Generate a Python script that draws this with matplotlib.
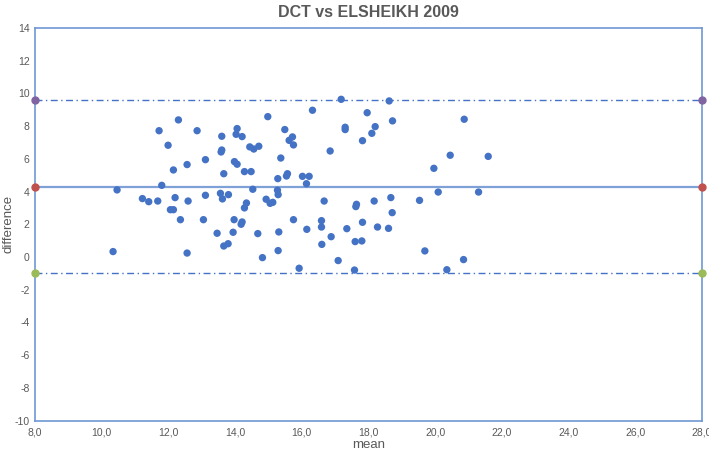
"""
Bland-Altman plot: DCT vs ELSHEIKH 2009
"""
import matplotlib
matplotlib.use('Agg')
import matplotlib.pyplot as plt
from matplotlib.ticker import FuncFormatter

plt.rcParams['font.family'] = ['Liberation Sans Narrow', 'Liberation Sans', 'DejaVu Sans']

# mean of the two methods
mean_vals = [
    12.30, 11.72, 12.86, 11.99, 12.56, 12.15, 11.80, 10.46, 11.22, 11.41,
    11.68, 12.20, 12.59, 12.06, 12.15, 12.36, 10.34, 12.56,
    17.18, 16.32, 14.98, 14.06, 14.03, 14.21, 13.60, 15.49, 17.30, 17.30,
    15.72, 15.62, 15.75, 17.82, 14.44, 14.56, 14.71, 13.60, 13.58, 16.85,
    13.11, 15.37, 13.98, 14.06, 13.66, 14.28, 14.48, 15.54, 15.57, 15.28,
    16.02, 16.22, 16.14, 14.53, 15.27, 15.29, 13.11, 13.56, 13.62, 13.80,
    14.93, 15.05, 15.13, 14.34, 14.28, 16.67, 17.64, 17.62, 13.05, 13.97,
    14.21, 14.18, 15.75, 16.59, 16.59, 17.82, 13.46, 13.94, 14.68, 15.31,
    16.15, 17.35, 16.88, 17.60, 17.80, 13.66, 13.79, 16.60, 15.29, 14.82,
    17.09, 15.92, 17.58,
    18.62, 17.96, 18.72, 18.20, 18.10, 20.87, 20.45, 21.59, 19.96, 20.09,
    21.30, 18.17, 18.67, 19.53, 18.71, 18.27, 18.60, 19.69, 20.85, 20.35,
]
# difference between the two methods
diff_vals = [
    8.38, 7.72, 7.72, 6.83, 5.65, 5.32, 4.38, 4.10, 3.57, 3.38,
    3.42, 3.63, 3.42, 2.89, 2.89, 2.28, 0.33, 0.24,
    9.64, 8.97, 8.58, 7.85, 7.50, 7.36, 7.38, 7.79, 7.93, 7.79,
    7.34, 7.13, 6.85, 7.11, 6.73, 6.60, 6.77, 6.54, 6.42, 6.48,
    5.95, 6.05, 5.83, 5.67, 5.09, 5.22, 5.22, 4.95, 5.09, 4.79,
    4.93, 4.93, 4.48, 4.14, 4.08, 3.81, 3.77, 3.89, 3.55, 3.81,
    3.53, 3.28, 3.34, 3.30, 3.00, 3.42, 3.22, 3.08, 2.28, 2.28,
    2.14, 2.00, 2.28, 2.22, 1.83, 2.12, 1.45, 1.51, 1.43, 1.53,
    1.69, 1.73, 1.24, 0.94, 0.98, 0.67, 0.81, 0.77, 0.39, -0.04,
    -0.22, -0.69, -0.80,
    9.54, 8.82, 8.32, 7.97, 7.56, 8.42, 6.22, 6.15, 5.42, 3.97,
    3.97, 3.42, 3.63, 3.46, 2.71, 1.83, 1.75, 0.37, -0.16, -0.78,
]

bias = 4.3
upper_loa = 9.6
lower_loa = -1.0

x_range = [8, 28]
y_range = [-10, 14]
x_ticks = [8, 10, 12, 14, 16, 18, 20, 22, 24, 26, 28]
y_ticks = [-10, -8, -6, -4, -2, 0, 2, 4, 6, 8, 10, 12, 14]

text_grey = '#595959'
frame_blue = '#6F97D3'

fig = plt.figure(figsize=(7.09, 4.53), dpi=100)
ax = fig.add_axes([0.0494, 0.0717, 0.9407, 0.8665])

ax.scatter(mean_vals, diff_vals, s=28, color='#4472C4', edgecolors='none', zorder=3)

# bias and limits of agreement
ax.plot(x_range, [bias, bias], color='#7EA1D8', lw=1.6, zorder=2)
ax.plot(x_range, [upper_loa, upper_loa], color='#4472C4', lw=1,
        linestyle=(0, (5, 2.5, 1, 2.5)), zorder=2)
ax.plot(x_range, [lower_loa, lower_loa], color='#4472C4', lw=1,
        linestyle=(0, (5, 2.5, 1, 2.5)), zorder=2)

# end markers
ax.plot(x_range, [upper_loa, upper_loa], 'o', color='#8064A2', ms=5, clip_on=False, zorder=4)
ax.plot(x_range, [bias, bias], 'o', color='#C0504D', ms=5, clip_on=False, zorder=4)
ax.plot(x_range, [lower_loa, lower_loa], 'o', color='#9BBB59', ms=5, clip_on=False, zorder=4)

ax.set_xlim(x_range)
ax.set_ylim(y_range)
ax.set_xticks(x_ticks)
ax.set_yticks(y_ticks)
ax.xaxis.set_major_formatter(FuncFormatter(lambda v, p: f'{v:.1f}'.replace('.', ',')))
ax.yaxis.set_major_formatter(FuncFormatter(lambda v, p: f'{v:.0f}'))
ax.tick_params(length=0, labelsize=7.5, colors=text_grey)
ax.tick_params(axis='x', pad=5)
ax.tick_params(axis='y', pad=4)

for spine in ax.spines.values():
    spine.set_color(frame_blue)
    spine.set_linewidth(1.2)

ax.set_title('DCT vs ELSHEIKH 2009', fontsize=11.5, fontweight='bold', color=text_grey, pad=8)
ax.set_xlabel('mean', fontsize=9.5, color=text_grey, labelpad=1)
ax.set_ylabel('difference', fontsize=9.5, color=text_grey)
ax.yaxis.set_label_coords(-0.031, 0.5)

plt.savefig('out.png', dpi=100)
plt.close()
